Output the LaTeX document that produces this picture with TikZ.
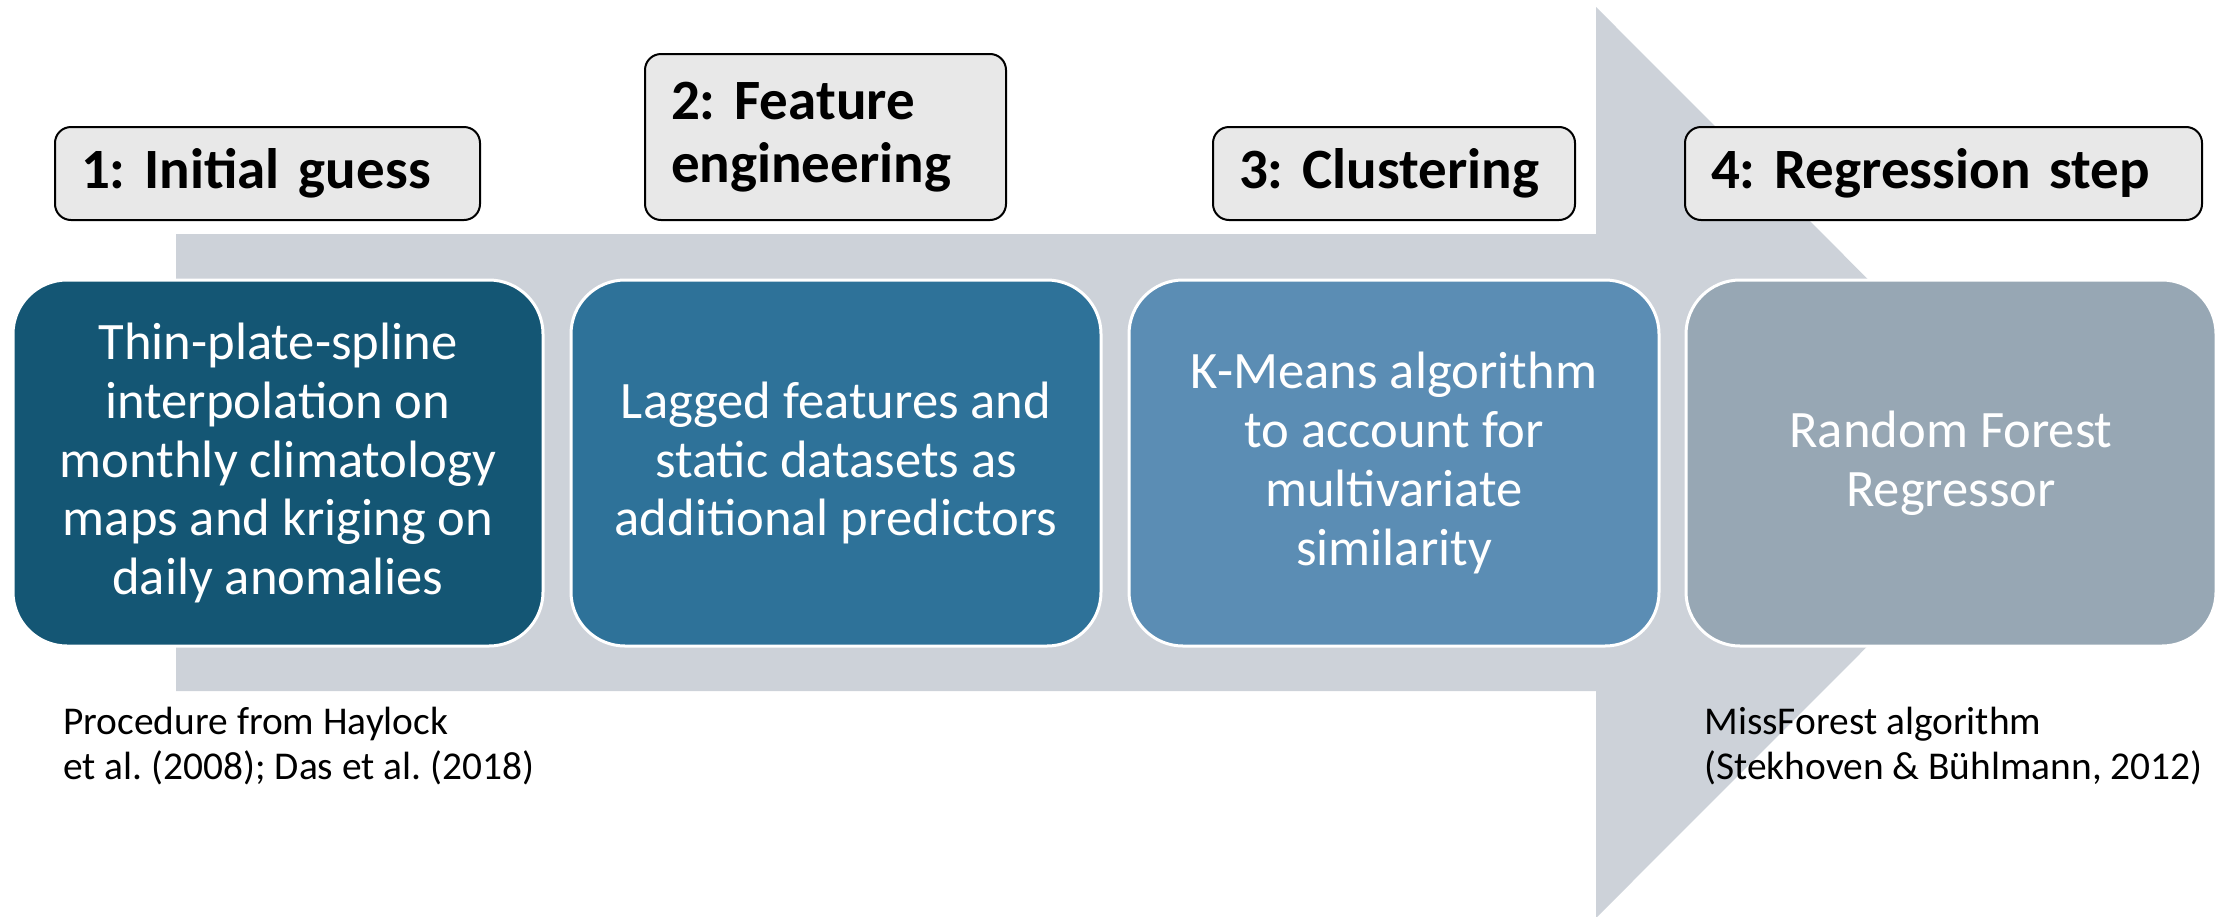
\documentclass[tikz,border=0pt]{standalone}
\usepackage{fontspec}
\setmainfont{Carlito}
\frenchspacing
\definecolor{arrowgray}{RGB}{205,210,217}
\definecolor{labelgray}{RGB}{232,232,232}
\definecolor{cone}{RGB}{20,86,116}
\definecolor{ctwo}{RGB}{46,114,153}
\definecolor{cthree}{RGB}{91,141,180}
\definecolor{cfour}{RGB}{151,167,180}
\tikzset{
  stepbox/.style={draw=white, line width=1.5pt, rounded corners=27pt,
    minimum width=265pt, minimum height=183pt, text=white, align=center,
    inner sep=0pt, font=\fontsize{26.3}{29.4}\selectfont},
  labelbox/.style={draw=black, line width=1pt, fill=labelgray, rounded corners=8pt,
    anchor=north west, align=left, inner xsep=13pt, inner ysep=0pt,
    minimum height=46.5pt, font=\bfseries\fontsize{28.5}{31.5}\selectfont},
  captext/.style={anchor=north west, align=left, inner sep=0pt,
    font=\fontsize{19.7}{22.5}\selectfont}
}
\begin{document}
\begin{tikzpicture}[x=0.5pt,y=-0.5pt]
\useasboundingbox (0,0) rectangle (2231,916);
% big arrow
\fill[arrowgray] (176,234) -- (1596,234) -- (1596,7) -- (2051,462.5)
  -- (1596,918) -- (1596,691) -- (176,691) -- cycle;
% step labels
\node[labelbox, text width=186.5pt] (l1) at (54,126) {1: Initial guess};
\node[labelbox, text width=154.5pt, minimum height=83pt] (l2) at (644,53) {2: Feature\\engineering};
\node[labelbox, text width=155pt] (l3) at (1212,126) {3: Clustering};
\node[labelbox, text width=232.5pt] (l4) at (1684,126) {4: Regression step};
% step boxes
\node[stepbox, fill=cone] (b1) at (278,463) {Thin-plate-spline\\interpolation on\\monthly climatology\\maps and kriging on\\daily anomalies};
\node[stepbox, fill=ctwo] (b2) at (836,463) {Lagged features and\\static datasets as\\additional predictors};
\node[stepbox, fill=cthree] (b3) at (1394,463) {K-Means algorithm\\to account for\\multivariate\\similarity};
\node[stepbox, fill=cfour] (b4) at (1951,463) {Random Forest\\Regressor};
% captions
\node[captext] (c1) at (63,707) {Procedure from Haylock\\et al. (2008); Das et al. (2018)};
\node[captext] (c4) at (1704,707) {MissForest algorithm\\(Stekhoven \& Bühlmann, 2012)};
\end{tikzpicture}
\end{document}
